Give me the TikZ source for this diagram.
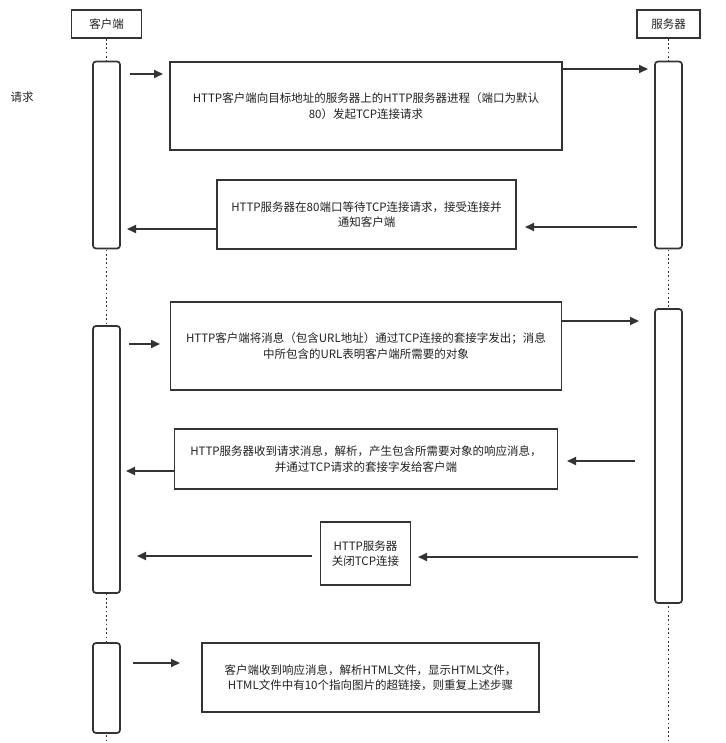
\documentclass[tikz,border=0pt]{standalone}
\usepackage{fontspec}
\newfontfamily\cjk{Noto Sans CJK SC}
\usetikzlibrary{arrows.meta}
\definecolor{ink}{HTML}{333333}
\definecolor{txtc}{HTML}{222222}
\begin{document}
\begin{tikzpicture}[x=1pt,y=-1pt,
  txt/.style={font=\cjk\fontsize{11.5}{15.5}\selectfont, text=txtc, align=center},
  headbox/.style={draw=ink, line width=1.7pt, txt, inner sep=0pt, fill=white},
  msgbox/.style={draw=ink, line width=1.7pt, txt, inner sep=0pt, fill=white},
  actbox/.style={draw=ink, line width=1.7pt, rounded corners=3pt, fill=white, minimum width=27pt, inner sep=0pt},
  life/.style={draw=ink, line width=1.8pt, dash pattern=on 1.7pt off 2.6pt},
  arr/.style={draw=ink, line width=1.8pt, -{Triangle[length=9pt,width=8pt]}}
]
\useasboundingbox (0,0) rectangle (725,743);

% heads
\node[headbox, minimum width=70pt, minimum height=28pt] (client) at (106.5,24) {客户端};
\node[headbox, minimum width=63pt, minimum height=28pt] (server) at (668.5,24) {服务器};

% lifelines
\coordinate (cbot) at (106.5,743);
\coordinate (sbot) at (668.5,743);
\draw[life] (client.south) -- (cbot);
\draw[life] (server.south) -- (sbot);

% activations
\node[actbox, minimum height=187pt] (a1) at (106.5,155) {};
\node[actbox, minimum height=267pt] (a2) at (106.5,459.5) {};
\node[actbox, minimum height=90pt] (a3) at (106.5,688) {};
\node[actbox, minimum height=187pt] (s1) at (668.5,155) {};
\node[actbox, minimum height=294pt] (s2) at (668.5,456) {};

% side label
\node[txt] (req) at (22,97) {请求};

% message boxes
\node[msgbox, minimum width=392pt, minimum height=88pt] (m1) at (366,106)
  {HTTP客户端向目标地址的服务器上的HTTP服务器进程（端口为默认\\80）发起TCP连接请求};
\node[msgbox, minimum width=299pt, minimum height=69pt] (m2) at (366.5,214.5)
  {HTTP服务器在80端口等待TCP连接请求，接受连接并\\通知客户端};
\node[msgbox, minimum width=391pt, minimum height=88pt] (m3) at (366,346)
  {HTTP客户端将消息（包含URL地址）通过TCP连接的套接字发出；消息\\中所包含的URL表明客户端所需要的对象};
\node[msgbox, minimum width=383pt, minimum height=60pt] (m4) at (366,459)
  {HTTP服务器收到请求消息，解析，产生包含所需要对象的响应消息，\\并通过TCP请求的套接字发给客户端};
\node[msgbox, minimum width=90pt, minimum height=63pt] (m5) at (365.5,553.5)
  {HTTP服务器\\关闭TCP连接};
\node[msgbox, minimum width=337pt, minimum height=69pt] (m6) at (370.5,677.5)
  {客户端收到响应消息，解析HTML文件，显示HTML文件，\\HTML文件中有10个指向图片的超链接，则重复上述步骤};

% connector end points
\coordinate (e1a) at (130,74);   \coordinate (e1b) at (163,74);
\coordinate (e1c) at (562,69);   \coordinate (e1d) at (648,69);
\coordinate (e2a) at (637,227);  \coordinate (e2b) at (525,227);
\coordinate (e2c) at (217,229);  \coordinate (e2d) at (127,229);
\coordinate (e3a) at (129,344);  \coordinate (e3b) at (160,344);
\coordinate (e3c) at (561,321);  \coordinate (e3d) at (639,321);
\coordinate (e4a) at (635,461);  \coordinate (e4b) at (567,461);
\coordinate (e4c) at (175,471);  \coordinate (e4d) at (126,471);
\coordinate (e5a) at (638,557);  \coordinate (e5b) at (418,557);
\coordinate (e5c) at (312,556);  \coordinate (e5d) at (137,556);
\coordinate (e6a) at (133,663);  \coordinate (e6b) at (180,663);

\draw[arr] (e1a) -- (e1b);
\draw[arr] (e1c) -- (e1d);
\draw[arr] (e2a) -- (e2b);
\draw[arr] (e2c) -- (e2d);
\draw[arr] (e3a) -- (e3b);
\draw[arr] (e3c) -- (e3d);
\draw[arr] (e4a) -- (e4b);
\draw[arr] (e4c) -- (e4d);
\draw[arr] (e5a) -- (e5b);
\draw[arr] (e5c) -- (e5d);
\draw[arr] (e6a) -- (e6b);
\end{tikzpicture}
\end{document}
